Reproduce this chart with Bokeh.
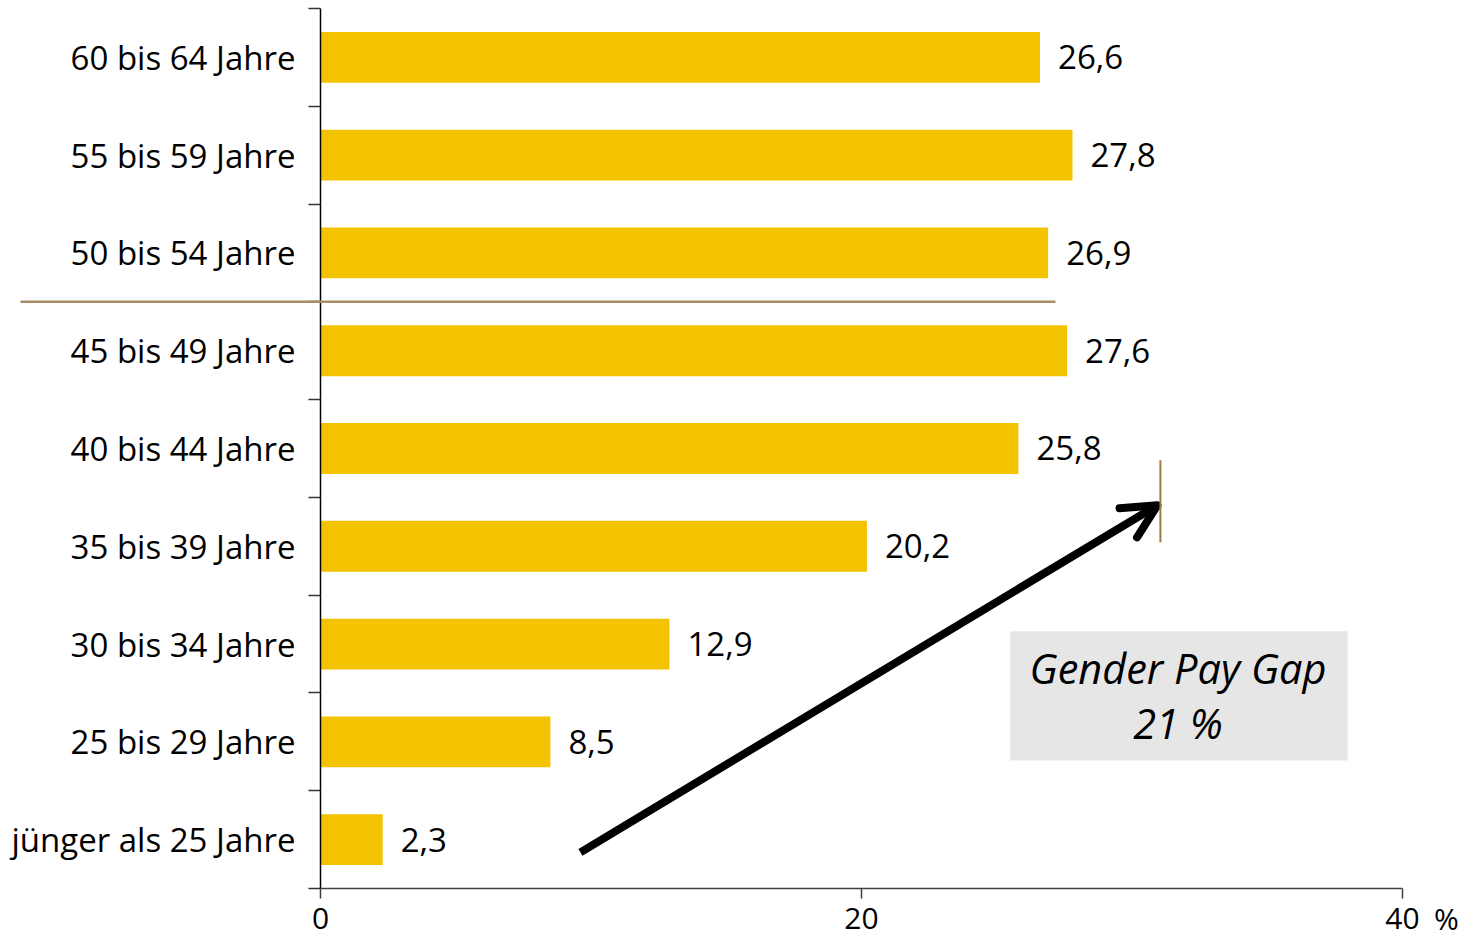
from bokeh.plotting import figure
from bokeh.models import (FixedTicker, Arrow, OpenHead, BoxAnnotation, Label,
                          ColumnDataSource)
from bokeh.core.properties import value
from bokeh.embed import file_html
from bokeh.resources import INLINE

# ---- data (bottom to top) ----
categories = ["jünger als 25 Jahre", "25 bis 29 Jahre", "30 bis 34 Jahre",
              "35 bis 39 Jahre", "40 bis 44 Jahre", "45 bis 49 Jahre",
              "50 bis 54 Jahre", "55 bis 59 Jahre", "60 bis 64 Jahre"]
values = [2.3, 8.5, 12.9, 20.2, 25.8, 27.6, 26.9, 27.8, 26.6]
x_ticks = [0, 20, 40]
box_title = "Gender Pay Gap"
box_value = "21 %"

FONT = "Open Sans"
n = len(categories)
centers = [i + 0.5 for i in range(n)]
labels = [f"{v:.1f}".replace(".", ",") for v in values]

p = figure(width=1470, height=942,
           x_range=(-11.83, 42.514), y_range=(-0.5523, 9.0818),
           output_backend="svg", toolbar_location=None, min_border=0)
p.grid.visible = False
p.outline_line_color = None
p.background_fill_color = "white"

src = ColumnDataSource(dict(y=centers, v=values, lab=labels))
p.hbar(y="y", right="v", left=0, height=0.52, source=src,
       fill_color="#f3c300", line_color=None)
p.text(x="v", y="y", text="lab", source=src, x_offset=18,
       text_baseline="middle", text_align="left",
       text_font=value(FONT), text_font_size="33px", text_color="black")

# y axis (placed at x = 0)
ya = p.yaxis[0]
ya.fixed_location = 0
ya.bounds = (0, n)
ya.ticker = FixedTicker(ticks=centers, minor_ticks=list(range(n + 1)))
ya.major_label_overrides = {c: t for c, t in zip(centers, categories)}
ya.major_tick_out = 0
ya.major_tick_in = 0
ya.minor_tick_out = 12
ya.minor_tick_in = 0
ya.minor_tick_line_color = "#333333"
ya.minor_tick_line_width = 1.5
ya.axis_line_color = "black"
ya.axis_line_width = 1.5
ya.major_label_standoff = 13
ya.major_label_text_font = FONT
ya.major_label_text_font_size = "33px"
ya.major_label_text_color = "black"

# x axis (placed at y = 0)
xa = p.xaxis[0]
xa.fixed_location = 0
xa.bounds = (0, 40)
xa.ticker = FixedTicker(ticks=x_ticks, minor_ticks=[])
xa.major_tick_out = 10
xa.major_tick_in = 0
xa.major_tick_line_color = "#404040"
xa.major_tick_line_width = 1.5
xa.axis_line_color = "#404040"
xa.axis_line_width = 1.5
xa.major_label_standoff = 10
xa.major_label_text_font = FONT
xa.major_label_text_font_size = "30px"
xa.major_label_text_color = "black"

p.add_layout(Label(x=40, y=0, x_offset=44, y_offset=-30, text="%",
                   text_align="center", text_baseline="middle",
                   text_font=FONT, text_font_size="30px", text_color="black"))

# separator line between 45-49 and 50-54
p.add_layout(Arrow(end=None, x_start=-11.09, y_start=6.0, x_end=27.17, y_end=6.0,
                   line_color="#a88c64", line_width=2.5))

# gray box with text
p.add_layout(BoxAnnotation(left=25.5, right=37.97, bottom=1.31, top=2.63,
                           fill_color="#e6e6e6", fill_alpha=1, line_alpha=0))
p.add_layout(Label(x=31.7, y=2.25, text=box_title, text_align="center",
                   text_baseline="middle", text_font=FONT, text_font_style="italic",
                   text_font_size="41.5px", text_color="black"))
p.add_layout(Label(x=31.7, y=1.69, text=box_value, text_align="center",
                   text_baseline="middle", text_font=FONT, text_font_style="italic",
                   text_font_size="41.5px", text_color="black"))

# arrow and marker line
p.add_layout(Arrow(end=OpenHead(size=34, line_width=8, line_color="black",
                                line_cap="round", line_join="round"),
                   x_start=9.61, y_start=0.37, x_end=30.94, y_end=3.92,
                   line_width=8, line_color="black"))
p.add_layout(Arrow(end=None, x_start=31.05, y_start=3.54, x_end=31.05, y_end=4.38,
                   line_color="#a07840", line_width=2))

open("out.html", "w").write(file_html(p, INLINE))
